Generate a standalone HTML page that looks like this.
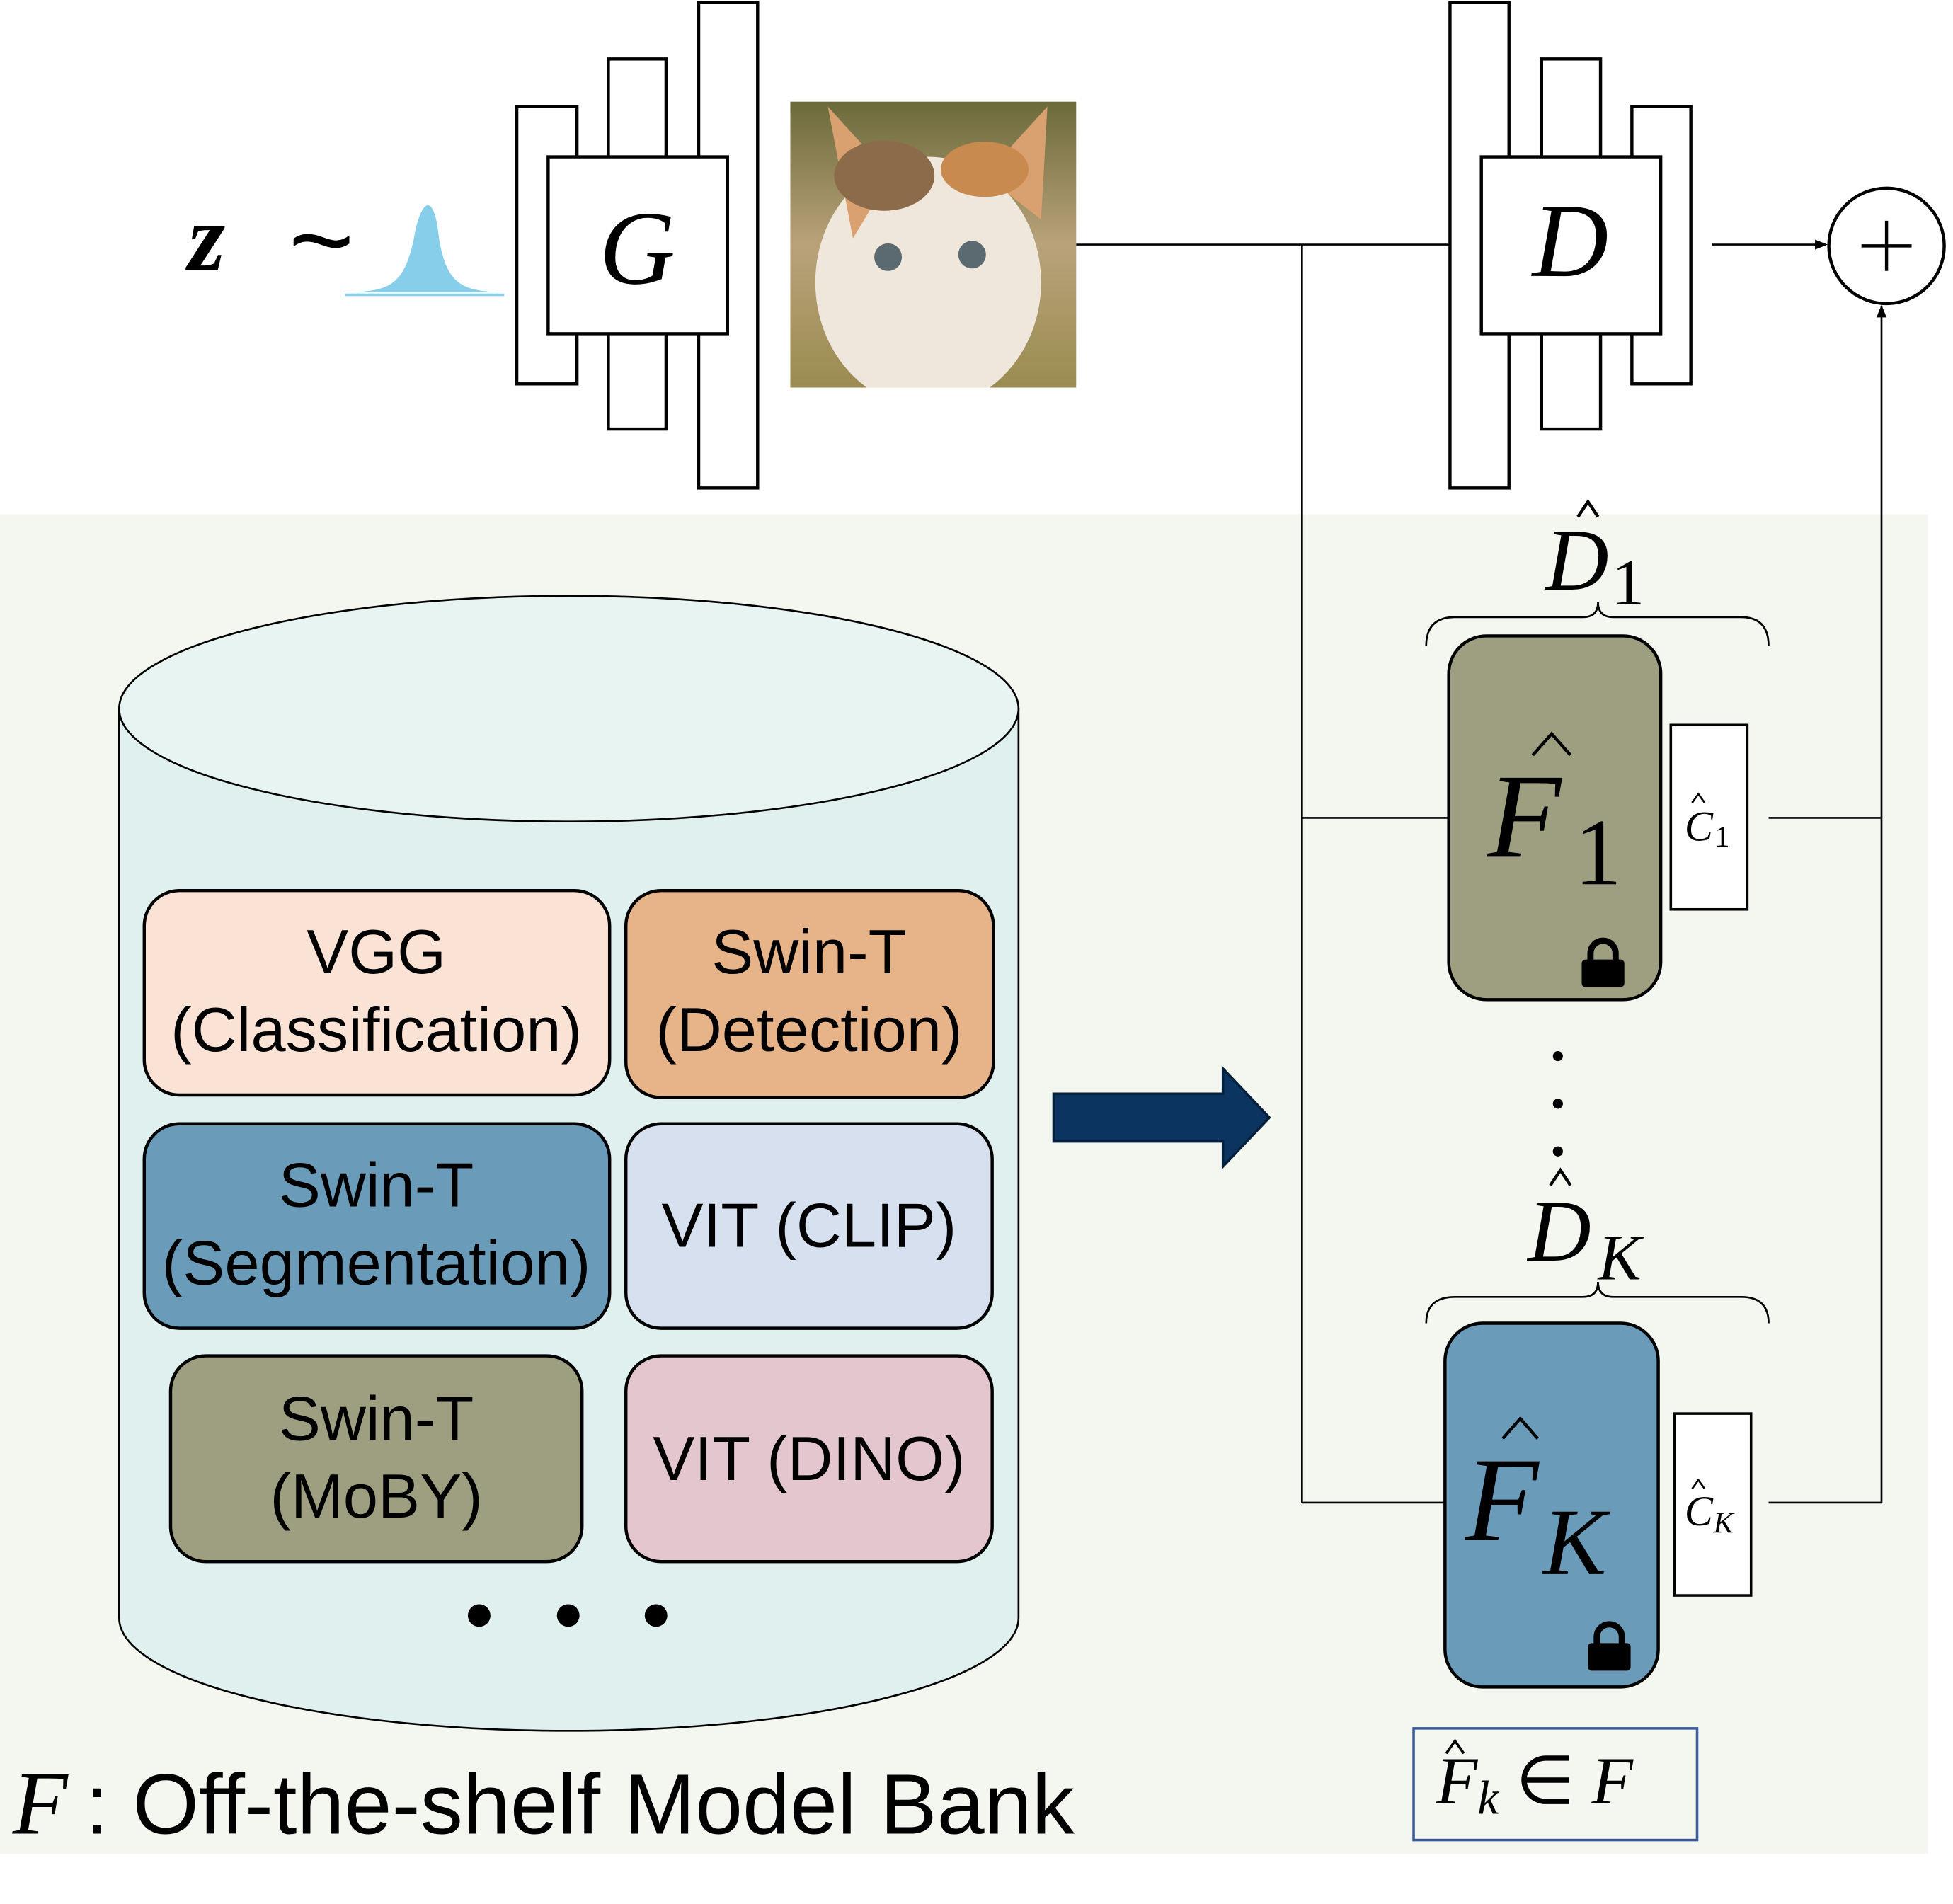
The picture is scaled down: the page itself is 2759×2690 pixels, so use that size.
<!DOCTYPE html>
<html><head><meta charset="utf-8"><style>html,body{margin:0;padding:0;background:#fff}svg{display:block}</style></head>
<body>
<svg xmlns="http://www.w3.org/2000/svg" width="2759" height="2690" viewBox="0 0 1557 1518">
<defs>
<marker id="ah" markerWidth="10" markerHeight="10" refX="9" refY="5" orient="auto" markerUnits="userSpaceOnUse"><path d="M0,1 L10,5 L0,9 z" fill="#000"/></marker>
<linearGradient id="cat" x1="0" y1="0" x2="0" y2="1"><stop offset="0" stop-color="#6b6a3a"/><stop offset="0.5" stop-color="#b9a27a"/><stop offset="1" stop-color="#9a8c50"/></linearGradient>
<clipPath id="cc"><rect x="630" y="81" width="228" height="228"/></clipPath>
</defs>
<rect x="0" y="410" width="1537" height="1068" fill="#f4f7f0"/>
<path d="M95,565 L95,1290 A358.5,90 0 0 0 812,1290 L812,565 Z" fill="#dff0ef" stroke="#000" stroke-width="1.5"/>
<ellipse cx="453.5" cy="565" rx="358.5" ry="90" fill="#e8f4f2" stroke="#000" stroke-width="1.5"/>
<g stroke="#000" stroke-width="2.5" font-family="Liberation Sans, sans-serif" font-size="50" text-anchor="middle">
<rect x="115" y="710" width="371" height="163" rx="28" fill="#fae3d5"/>
<rect x="499" y="710" width="293" height="165" rx="28" fill="#e6b488"/>
<rect x="115" y="896" width="371" height="163" rx="28" fill="#6a9bb9"/>
<rect x="499" y="896" width="292" height="163" rx="28" fill="#d6e0ef"/>
<rect x="136" y="1081" width="328" height="164" rx="28" fill="#9e9e80"/>
<rect x="499" y="1081" width="292" height="164" rx="28" fill="#e4c6cf"/>
<g stroke="none" fill="#000">
<text x="300" y="776">VGG</text><text x="300" y="838">(Classification)</text>
<text x="645" y="776">Swin-T</text><text x="645" y="838">(Detection)</text>
<text x="300" y="962">Swin-T</text><text x="300" y="1024">(Segmentation)</text>
<text x="645" y="994">VIT (CLIP)</text>
<text x="300" y="1148">Swin-T</text><text x="300" y="1210">(MoBY)</text>
<text x="645" y="1180">VIT (DINO)</text>
</g></g>
<circle cx="382" cy="1288" r="9"/><circle cx="453" cy="1288" r="9"/><circle cx="523" cy="1288" r="9"/>
<path d="M840,872 L975,872 L975,852 L1012,891 L975,930 L975,910 L840,910 Z" fill="#0b3560" stroke="#061f3a" stroke-width="2"/>
<text x="10" y="1462" font-family="Liberation Serif, serif" font-style="italic" font-size="72">F</text>
<text x="68" y="1462" font-family="Liberation Sans, sans-serif" font-size="68">: Off-the-shelf Model Bank</text>
<g fill="#fff" stroke="#000" stroke-width="2.5">
<rect x="412" y="85" width="48" height="221"/><rect x="485" y="47" width="46" height="295"/><rect x="557" y="2" width="47" height="387"/>
<rect x="437" y="125" width="143" height="141"/>
<rect x="1156" y="2" width="47" height="387"/><rect x="1229" y="47" width="47" height="295"/><rect x="1301" y="85" width="47" height="221"/>
<rect x="1181" y="125" width="143" height="141"/>
</g>
<text x="508" y="226" font-family="Liberation Serif, serif" font-style="italic" font-size="84" text-anchor="middle">G</text>
<text x="1252" y="220" font-family="Liberation Serif, serif" font-style="italic" font-size="84" text-anchor="middle">D</text>
<text x="150" y="215" font-family="Liberation Serif, serif" font-style="italic" font-weight="bold" font-size="76">z</text>
<text x="230" y="222" font-family="Liberation Sans, sans-serif" font-size="90">~</text>
<path d="M278,233 C310,232 322,228 330,190 C335,160 346,150 350,190 C356,228 370,232 400,233 Z" fill="#87ceeb"/>
<line x1="275" y1="235" x2="402" y2="235" stroke="#87ceeb" stroke-width="2"/>
<g clip-path="url(#cc)">
<rect x="630" y="81" width="228" height="228" fill="url(#cat)"/>
<ellipse cx="740" cy="225" rx="90" ry="100" fill="#efe6dc"/>
<path d="M660,85 L710,140 L680,190 Z M835,85 L785,140 L830,175 Z" fill="#d9a070"/>
<ellipse cx="705" cy="140" rx="40" ry="28" fill="#8b6b4a"/>
<ellipse cx="785" cy="135" rx="35" ry="22" fill="#c98a50"/>
<circle cx="708" cy="205" r="11" fill="#5a6a70"/><circle cx="775" cy="203" r="11" fill="#5a6a70"/>
</g>
<g stroke="#000" stroke-width="1.5" fill="none">
<line x1="858" y1="195" x2="1156" y2="195"/>
<line x1="1038" y1="195" x2="1038" y2="1198"/>
<line x1="1038" y1="652" x2="1155" y2="652"/>
<line x1="1038" y1="1198" x2="1152" y2="1198"/>
<line x1="1365" y1="195" x2="1456" y2="195" marker-end="url(#ah)"/>
<line x1="1500" y1="1198" x2="1500" y2="244" marker-end="url(#ah)"/>
<line x1="1410" y1="652" x2="1500" y2="652"/>
<line x1="1410" y1="1198" x2="1500" y2="1198"/>
<circle cx="1504" cy="196" r="46" stroke-width="2.5"/>
<line x1="1484" y1="196" x2="1524" y2="196" stroke-width="2.5"/><line x1="1504" y1="176" x2="1504" y2="216" stroke-width="2.5"/>
<path d="M1137,515 Q1137,492 1160,492 L1262,492 Q1274,492 1274,480 Q1274,492 1286,492 L1388,492 Q1410,492 1410,515"/>
<path d="M1137,1055 Q1137,1034 1160,1034 L1262,1034 Q1274,1034 1274,1022 Q1274,1034 1286,1034 L1388,1034 Q1410,1034 1410,1055"/>
</g>
<rect x="1155" y="507" width="169" height="290" rx="30" fill="#9e9e80" stroke="#000" stroke-width="2.5"/>
<rect x="1152" y="1055" width="170" height="290" rx="30" fill="#6a9bb9" stroke="#000" stroke-width="2.5"/>
<rect x="1332" y="578" width="61" height="147" fill="#fff" stroke="#000" stroke-width="2"/>
<rect x="1335" y="1127" width="61" height="145" fill="#fff" stroke="#000" stroke-width="2"/>
<g font-family="Liberation Serif, serif" font-style="italic">
<text x="1186" y="683" font-size="96">F</text><text x="1255" y="705" font-size="76" font-style="normal">1</text>
<text x="1168" y="1228" font-size="96">F</text><text x="1230" y="1255" font-size="76">K</text>
<text x="1232" y="470" font-size="70">D</text><text x="1285" y="482" font-size="52" font-style="normal">1</text>
<text x="1218" y="1005" font-size="70">D</text><text x="1274" y="1020" font-size="52">K</text>
<text x="1343" y="670" font-size="34">C</text><text x="1367" y="675" font-size="24" font-style="normal">1</text>
<text x="1343" y="1216" font-size="34">C</text><text x="1366" y="1222" font-size="24">K</text>
</g>
<g stroke="#000" stroke-width="2.5" fill="none">
<path d="M1222,602 L1237,585 L1252,602"/>
<path d="M1198,1147 L1212,1131 L1226,1147"/>
<path d="M1258,412 L1266,400 L1274,412"/>
<path d="M1236,945 L1244,933 L1252,945"/>
<path d="M1349,640 L1354,633 L1359,640" stroke-width="1.5"/>
<path d="M1349,1187 L1354,1180 L1359,1187" stroke-width="1.5"/>
<path d="M1153,1398 L1160,1388 L1167,1398" stroke-width="2"/>
</g>
<circle cx="1242" cy="842" r="4"/><circle cx="1242" cy="880" r="4"/><circle cx="1242" cy="918" r="4"/>
<g fill="#000">
<path d="M1268,766 v-6 a10,10 0 0 1 20,0 v6" fill="none" stroke="#000" stroke-width="5"/><rect x="1261" y="765" width="34" height="22" rx="3"/>
<path d="M1273,1311 v-6 a10,10 0 0 1 20,0 v6" fill="none" stroke="#000" stroke-width="5"/><rect x="1266" y="1310" width="34" height="22" rx="3"/>
</g>
<rect x="1127" y="1378" width="226" height="89" fill="none" stroke="#3a5a9a" stroke-width="2"/>
<text x="1145" y="1438" font-family="Liberation Serif, serif" font-style="italic" font-size="54">F<tspan font-size="38" dy="8">k</tspan><tspan dy="-8" font-style="normal"> ∈ </tspan>F</text>
</svg>
</body></html>
